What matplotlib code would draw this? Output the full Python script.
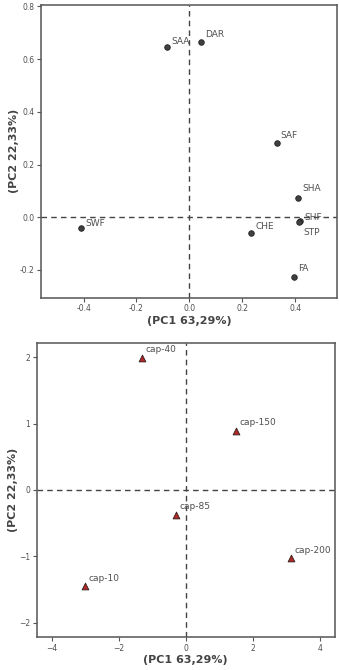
import matplotlib
matplotlib.use("Agg")
import matplotlib.pyplot as plt

# Top panel: loadings
var_names = ["SAA", "DAR", "SAF", "SHA", "SHF", "STP", "CHE", "SWF", "FA"]
var_pc1 = [-0.083, 0.044, 0.330, 0.412, 0.418, 0.414, 0.233, -0.408, 0.395]
var_pc2 = [0.646, 0.663, 0.280, 0.073, -0.015, -0.018, -0.061, -0.039, -0.226]
var_offsets = [(2.5, 2), (3, 4), (3, 4), (3, 5), (3, 1), (3, -9), (3, 3), (3, 1), (3, 4)]

# Bottom panel: scores
obs_names = ["cap-40", "cap-150", "cap-85", "cap-200", "cap-10"]
obs_pc1 = [-1.30, 1.49, -0.31, 3.12, -3.01]
obs_pc2 = [1.99, 0.89, -0.377, -1.03, -1.45]

xlabel = "(PC1 63,29%)"
ylabel = "(PC2 22,33%)"
top_xticks = [-0.4, -0.2, 0.0, 0.2, 0.4]
top_yticks = [-0.2, 0.0, 0.2, 0.4, 0.6, 0.8]
bot_xticks = [-4, -2, 0, 2, 4]
bot_yticks = [-2, -1, 0, 1, 2]

txt = "#505050"
fig = plt.figure(figsize=(3.39, 6.70), dpi=100)
ax1 = fig.add_axes([0.121, 0.5557, 0.872, 0.4368])
ax2 = fig.add_axes([0.108, 0.0488, 0.880, 0.4388])

def style(ax):
    for s in ax.spines.values():
        s.set_color("#555555")
        s.set_linewidth(1.1)
    ax.tick_params(direction="out", length=3, width=0.8, color="#555555",
                   labelsize=5.5, labelcolor=txt, pad=1.5)
    ax.axhline(0, color="#444444", lw=1.0, ls=(0, (4, 3)), zorder=1)
    ax.axvline(0, color="#444444", lw=1.0, ls=(0, (4, 3)), zorder=1)
    ax.set_xlabel(xlabel, fontsize=8, fontweight="bold", color="#444444", labelpad=2)
    ax.set_ylabel(ylabel, fontsize=8, fontweight="bold", color="#444444", labelpad=1)

ax1.scatter(var_pc1, var_pc2, s=16, c="#404040", edgecolors="#202020", linewidths=0.6, zorder=3)
for n, x, y, off in zip(var_names, var_pc1, var_pc2, var_offsets):
    ax1.annotate(n, (x, y), xytext=off, textcoords="offset points",
                 fontsize=6.5, color=txt)
ax1.set_xlim(-0.561, 0.557)
ax1.set_ylim(-0.305, 0.805)
ax1.set_xticks(top_xticks)
ax1.set_xticklabels(["%.1f" % v for v in top_xticks])
ax1.set_yticks(top_yticks)
ax1.set_yticklabels(["%.1f" % v for v in top_yticks])
style(ax1)

ax2.scatter(obs_pc1, obs_pc2, s=24, marker="^", c="#b02828", edgecolors="#302020", linewidths=0.6, zorder=3)
for n, x, y in zip(obs_names, obs_pc1, obs_pc2):
    ax2.annotate(n, (x, y), xytext=(2.5, 4), textcoords="offset points",
                 fontsize=6.5, color=txt)
ax2.set_xlim(-4.45, 4.44)
ax2.set_ylim(-2.22, 2.21)
ax2.set_xticks(bot_xticks)
ax2.set_yticks(bot_yticks)
style(ax2)

fig.savefig("out.png", dpi=100)
